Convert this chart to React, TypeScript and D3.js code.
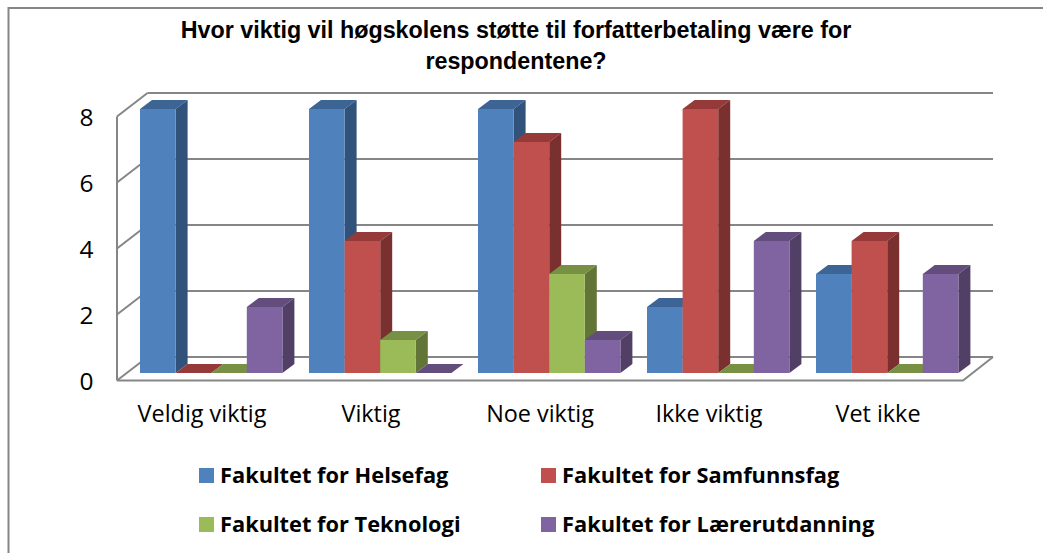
import React from "react";
import * as d3 from "d3";

const categories = ["Veldig viktig", "Viktig", "Noe viktig", "Ikke viktig", "Vet ikke"];
const seriesNames = ["Fakultet for Helsefag", "Fakultet for Samfunnsfag", "Fakultet for Teknologi", "Fakultet for Lærerutdanning"];
const helsefag = [8, 8, 8, 2, 3];
const samfunnsfag = [0, 4, 7, 8, 4];
const teknologi = [0, 1, 3, 0, 0];
const larerutdanning = [2, 0, 1, 4, 3];
const seriesValues = [helsefag, samfunnsfag, teknologi, larerutdanning];
const yTicks = [0, 2, 4, 6, 8];
const titleLines = ["Hvor viktig vil høgskolens støtte til forfatterbetaling være for", "respondentene?"];

const front = ["#4f81bd", "#c0504d", "#9bbb59", "#8064a2"];
const top = ["#3c6494", "#953a38", "#779044", "#624d7d"];
const side = ["#30527b", "#7a302e", "#627537", "#513f66"];

const y = d3.scaleLinear().domain([0, 8]).range([373, 109]);
const x0 = d3.scaleBand().domain(categories).range([98, 943]).paddingInner(0).paddingOuter(0);
const x1 = d3.scaleBand().domain(seriesNames).range([42, 42 + 142.4]);
const dx = 12;
const dy = -9;
const grey = "#868686";
const sans = "'Open Sans', sans-serif";

export default function App() {
  const wall = (v: number) => y(v) + 7.5;
  return (
    <svg width={1043} height={553} style={{ position: "absolute", left: 0, top: 0, background: "#fff" }}>
      <g stroke={grey} strokeWidth={2} fill="none">
        <polyline points="8.5,553 8.5,8 1043,8" />
        <line x1={117} x2={117} y1={wall(8)} y2={wall(0)} />
        {yTicks.map((t) => (
          <g key={t}>
            <line x1={117} x2={147.5} y1={wall(t)} y2={wall(t) - 23.5} />
            <line x1={147.5} x2={993} y1={wall(t) - 23.5} y2={wall(t) - 23.5} />
          </g>
        ))}
        <polyline points={`117,${wall(0)} 963,${wall(0)} 993,${wall(0) - 23.5}`} />
      </g>
      {titleLines.map((t, i) => (
        <text key={i} x={516} y={38 + i * 31} textAnchor="middle" fontFamily="'Liberation Sans', sans-serif" fontWeight={700} fontSize={23.3} fill="#000">{t}</text>
      ))}
      {yTicks.map((t) => (
        <text key={t} x={93.5} y={y(t) + 17} textAnchor="end" fontFamily={sans} fontSize={24.5} fill="#000">{t}</text>
      ))}
      {categories.map((c, ci) => (
        <g key={c}>
          {seriesNames.map((s, si) => {
            const v = seriesValues[si][ci];
            const l = x0(c)! + x1(s)!;
            const r = l + x1.bandwidth();
            const t = y(v);
            const b = y(0);
            return (
              <g key={s}>
                <path d={`M${l},${t}L${l + dx},${t + dy}L${r + dx},${t + dy}L${r},${t}Z`} fill={top[si]} />
                {v > 0 && <path d={`M${r},${t}L${r + dx},${t + dy}L${r + dx},${b + dy}L${r},${b}Z`} fill={side[si]} />}
                {v > 0 && <rect x={l} y={t} width={r - l} height={b - t} fill={front[si]} />}
              </g>
            );
          })}
          <text x={x0(c)! + x0.bandwidth() / 2 + 19.5} y={422} textAnchor="middle" fontFamily={sans} fontSize={23.4} fill="#000">{c}</text>
        </g>
      ))}
      {seriesNames.map((s, i) => {
        const lx = 199 + (i % 2) * 342;
        const ly = 468 + Math.floor(i / 2) * 49;
        return (
          <g key={s}>
            <rect x={lx} y={ly} width={15} height={15} fill={front[i]} />
            <text x={lx + 21} y={ly + 15} fontFamily={sans} fontWeight={700} fontSize={21.8} fill="#000">{s}</text>
          </g>
        );
      })}
    </svg>
  );
}
